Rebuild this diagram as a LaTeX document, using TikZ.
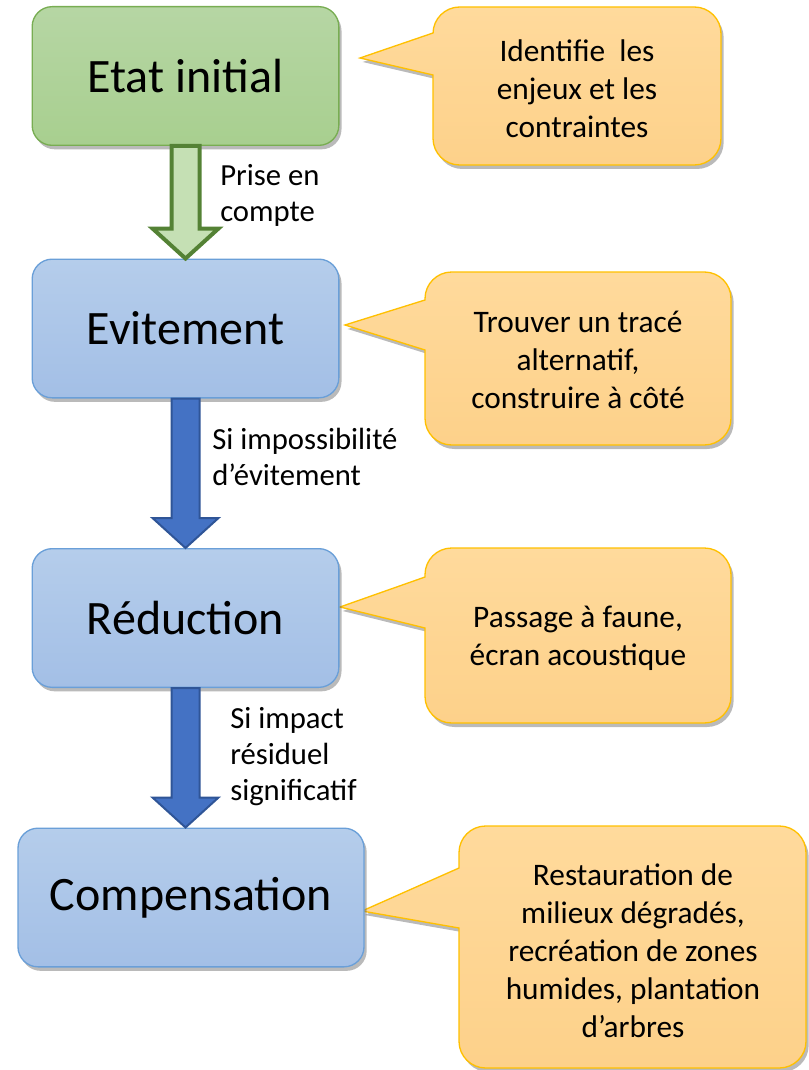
\documentclass[tikz,border=0pt]{standalone}
\usepackage{fontspec}
\setmainfont{Carlito}
\usetikzlibrary{calc}
\usetikzlibrary{shadows}
\usetikzlibrary{positioning}

\definecolor{greentop}{HTML}{B6D6A4}
\definecolor{greenbot}{HTML}{A8CF8F}
\definecolor{greenline}{HTML}{78AD52}
\definecolor{arrowgreen}{HTML}{C5E0B4}
\definecolor{arrowgreenline}{HTML}{548235}
\definecolor{bluetop}{HTML}{B5CDEB}
\definecolor{bluebot}{HTML}{A3BFE6}
\definecolor{blueline}{HTML}{6A9FD8}
\definecolor{arrowblue}{HTML}{4472C4}
\definecolor{arrowblueline}{HTML}{2F5597}
\definecolor{notetop}{HTML}{FFDA9C}
\definecolor{notebot}{HTML}{FDD18A}
\definecolor{noteline}{HTML}{FFC000}

\tikzset{shade/.style = {drop shadow={shadow xshift=2pt, shadow yshift=-3pt,
                                      opacity=0.45, fill=black!60}},
         stepbox/.style = {rectangle, rounded corners=15pt, line width=1pt,
                           minimum width=230pt, minimum height=104pt,
                           font=\fontsize{36}{43}\selectfont, shade},
         greenbox/.style = {stepbox, draw=greenline, top color=greentop, bottom color=greenbot},
         bluebox/.style = {stepbox, draw=blueline, top color=bluetop, bottom color=bluebot},
         note/.style = {draw=noteline, line width=1pt, top color=notetop,
                        bottom color=notebot, shade},
         notetext/.style = {align=center, font=\fontsize{23.5}{28.5}\selectfont},
         lbl/.style = {align=left, anchor=west, inner sep=0pt,
                       font=\fontsize{23}{27}\selectfont},
         greenarrow/.style = {draw=arrowgreenline, fill=arrowgreen, line width=3pt},
         bluearrow/.style = {draw=arrowblueline, fill=arrowblue, line width=1.5pt}}

% block arrow from the bottom of one box to the top of the next
\newcommand{\blockarrow}[3]{%
  \draw [#1] let \p1 = (#2.south), \p2 = (#3.north) in
    (\x1-10.5pt,\y1) -- (\x1+10.5pt,\y1) -- (\x1+10.5pt,\y2+22.5pt)
    -- (\x1+24.75pt,\y2+22.5pt) -- (\x1,\y2) -- (\x1-24.75pt,\y2+22.5pt)
    -- (\x1-10.5pt,\y2+22.5pt) -- cycle;}

% speech bubble: tip x, tip y, left, top, right, bottom, base top, base bottom
\newcommand{\bubble}[8]{%
  \path [note] (#1,#2) -- (#3,#8) [rounded corners=20] -- (#3,#6) -- (#5,#6)
    -- (#5,#4) -- (#3,#4) [sharp corners] -- (#3,#7) -- cycle;}

\begin{document}
\begin{tikzpicture}[x=0.75pt, y=-0.75pt]
  \useasboundingbox (0,0) rectangle (809,1070);

  % bubbles
  \bubble{360}{58}{433}{7}{721}{165}{33}{75}
  \bubble{345}{325}{425}{272}{731}{445}{300}{350}
  \bubble{340}{607}{425}{548}{731}{723}{577}{628}
  \bubble{362}{911}{459}{826}{806}{1068}{868}{928}

  \node [notetext] (note1) at (577,89) {Identifie\ \ les\\enjeux et les\\contraintes};
  \node [notetext] (note2) at (578,360) {Trouver un tracé\\alternatif,\\construire à côté};
  \node [notetext] (note3) at (578,638) {Passage à faune,\\écran acoustique};
  \node [notetext] (note4) at (633,951) {Restauration de\\milieux dégradés,\\recréation de zones\\humides, plantation\\d’arbres};

  % steps
  \node [greenbox] (etat) at (185.5,76) {Etat initial};
  \node [bluebox] (evit) at (185.5,328.5) {Evitement};
  \node [bluebox] (reduc) at (185.5,618) {Réduction};
  \node [bluebox, minimum width=259.5pt] (comp) at (191,897.5) {Compensation};

  \blockarrow{greenarrow}{etat}{evit}
  \blockarrow{bluearrow}{evit}{reduc}
  \blockarrow{bluearrow}{reduc}{comp}

  \node [lbl] (lbl1) at (220,195) {Prise en\\compte};
  \node [lbl] (lbl2) at (212,457) {Si impossibilité\\d’évitement};
  \node [lbl] (lbl3) at (230,757) {Si impact\\résiduel\\significatif};
\end{tikzpicture}
\end{document}
